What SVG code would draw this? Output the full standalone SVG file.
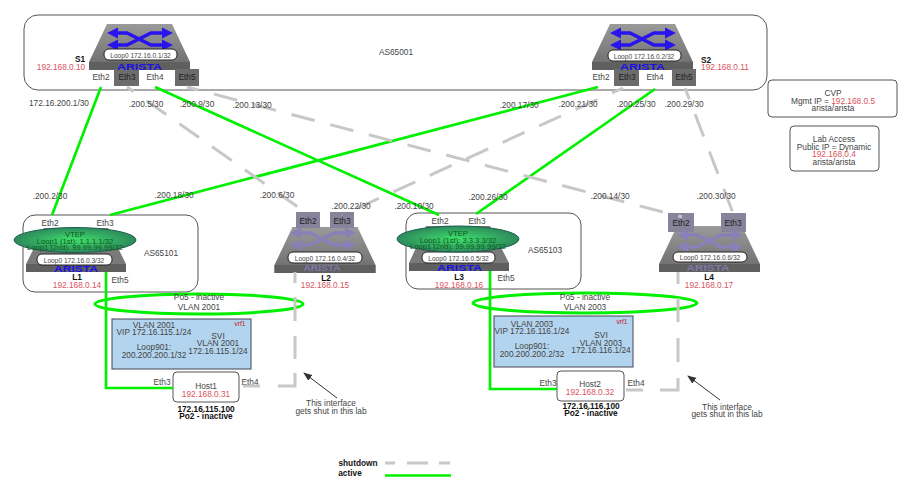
<svg xmlns="http://www.w3.org/2000/svg" width="900" height="499" viewBox="0 0 900 499">
<style>
text{font-family:"Liberation Sans",Arial,sans-serif;font-size:8.3px;fill:#444;text-anchor:middle}
.ip{fill:#d9525c}
.b{font-weight:bold;fill:#111}
.pt{fill:#222}
.box{fill:#fff;stroke:#555;stroke-width:1}
.nofill{fill:none}
.on{fill:none;stroke:#00f000;stroke-width:2.7}
.off{fill:none;stroke:#c8c8c8;stroke-width:3;stroke-dasharray:24 16;stroke-dashoffset:12}
.port{fill:#6c6c6c}
.portd{fill:#86839a}
.ar{font-size:8.5px;font-weight:bold;fill:#1a10e8}
.ard{fill:#7f78a8}
.lo{font-size:6.6px;fill:#444}
.lbox{fill:#fff;stroke:#222;stroke-width:1}
.po{fill:none;stroke:#00f000;stroke-width:3}
.blue{fill:#b3d4ee;stroke:#445}
.vt{fill:url(#vg);stroke:#1c5f50;stroke-width:1}
.vtxt{fill:#0a5a1a;font-size:7.6px}
.vrf{font-size:6.5px;fill:#c1121f}
.arr{stroke:#333;fill:none;marker-end:url(#ah)}
</style>
<defs>
<radialGradient id="vg"><stop offset="0" stop-color="#3fe06c"/><stop offset="1" stop-color="#2d8a5c"/></radialGradient>
<linearGradient id="bg" x1="0" y1="0" x2="0" y2="1"><stop offset="0" stop-color="#9a9a9a"/><stop offset="1" stop-color="#6a6a6a"/></linearGradient>
<marker id="ah" markerWidth="9" markerHeight="7" refX="8" refY="3.500" orient="auto"><path d="M0 0L9 3.500L0 7z" fill="#333"/></marker>
<g id="body"><path d="M18 0H83L101 38V46H0V38Z" fill="url(#bg)"/><path d="M0 38H101V46H0Z" fill="#5f5f5f"/></g>
<g id="xarrows">
<path d="M24 9H38L62 21H78M24 21H38L62 9H78" fill="none" stroke="currentColor" stroke-width="3.600"/>
<path d="M18 9L29 3.500V14.500Z M84 9L73 3.500V14.500Z M18 21L29 15.500V26.500Z M84 21L73 15.500V26.500Z" fill="currentColor"/>
</g>
</defs>
<g id="AS65001"><rect class="box nofill" x="24" y="15" width="743" height="75" rx="14"/><text x="396" y="55">AS65001</text></g>
<g id="S1"><use href="#body" x="89" y="24"/><use href="#xarrows" x="89" y="24" color="#2a14ee"/>
<rect class="lbox" x="104" y="49" width="73" height="11" rx="5"/><text class="lo" x="140.500" y="57.500">Loop0 172.16.0.1/32</text>
<rect class="port" x="114" y="69" width="25" height="17"/><rect class="port" x="175" y="69" width="24" height="17"/>
<text class="ar" x="139.500" y="69.500" textLength="45" lengthAdjust="spacingAndGlyphs">ARISTA</text>
<text x="101" y="80">Eth2</text><text class="pt" x="127" y="80">Eth3</text><text x="155" y="80">Eth4</text><text class="pt" x="187" y="80">Eth5</text>
<text class="b" x="80" y="62">S1</text><text class="ip" x="61" y="70">192.168.0.10</text></g>
<g id="S2"><use href="#body" x="592" y="24"/><use href="#xarrows" x="592" y="24" color="#2a14ee"/>
<rect class="lbox" x="608" y="50" width="73" height="11" rx="5"/><text class="lo" x="644" y="58.500">Loop0 172.16.0.2/32</text>
<rect class="port" x="614" y="69" width="25" height="17"/><rect class="port" x="672" y="69" width="24" height="17"/>
<text class="ar" x="642.500" y="69.500" textLength="45" lengthAdjust="spacingAndGlyphs">ARISTA</text>
<text x="601" y="80">Eth2</text><text class="pt" x="627" y="80">Eth3</text><text x="655" y="80">Eth4</text><text class="pt" x="684" y="80">Eth5</text>
<text class="b" x="706" y="63">S2</text><text class="ip" x="725" y="70">192.168.0.11</text></g>
<g id="CVP"><rect class="box" x="768" y="80" width="129" height="37" rx="4"/><text x="833" y="96">CVP</text><text x="833" y="104">Mgmt IP = <tspan class="ip">192.168.0.5</tspan></text><text x="833" y="111">arista/arista</text></g>
<g id="LabAccess"><rect class="box" x="790" y="126" width="89" height="45" rx="4"/><text x="834" y="142">Lab Access</text><text x="834" y="150">Public IP = Dynamic</text><text class="ip" x="834" y="157">192.168.0.4</text><text x="834" y="165">arista/arista</text></g>
<g id="AS65101"><rect class="box nofill" x="23" y="215" width="175" height="77" rx="12"/><text x="161" y="256">AS65101</text></g>
<g id="L1"><path d="M44 228H108L126 264V272H26V264Z" fill="#7a7a7a"/><path d="M26 264H126V272H26Z" fill="#5f5f5f"/>
<rect class="lbox" x="37" y="254" width="75" height="11" rx="5"/><text class="lo" x="74" y="262.500">Loop0 172.16.0.3/32</text>
<text class="ar" x="76" y="272" textLength="44" lengthAdjust="spacingAndGlyphs">ARISTA</text>
<ellipse class="vt" cx="75" cy="240" rx="61" ry="12.500"/>
<text class="vtxt" x="75" y="237">VTEP</text><text class="vtxt" x="75" y="243.500">Loop1 (1st): 1.1.1.1/32</text><text class="vtxt" x="75" y="250">Loop1 (2nd): 99.99.99.99/32</text>
<text x="50" y="226">Eth2</text><text x="105" y="226">Eth3</text><text x="120" y="283">Eth5</text>
<text class="b" x="77" y="280">L1</text><text class="ip" x="77" y="287.500">192.168.0.14</text></g>
<g id="L2"><use href="#body" x="274.500" y="227"/>
<rect class="port portd" x="296" y="212" width="24" height="16"/><rect class="port portd" x="330" y="212" width="24" height="16"/>
<use href="#xarrows" x="272" y="224" color="#8a80b8"/>
<text class="pt" x="308" y="224">Eth2</text><text class="pt" x="342" y="224">Eth3</text>
<rect class="lbox" x="288" y="252" width="74" height="11" rx="5"/><text class="lo" x="325" y="260.500">Loop0 172.16.0.4/32</text>
<text class="ar ard" x="322" y="271" textLength="37" lengthAdjust="spacingAndGlyphs">ARISTA</text>
<text class="b" x="326" y="280.500">L2</text><text class="ip" x="325" y="287.500">192.168.0.15</text></g>
<g id="AS65103"><rect class="box nofill" x="406" y="213" width="175" height="76" rx="12"/><text x="545" y="253">AS65103</text></g>
<g id="L3"><path d="M426 226H490L509 263V271H409V263Z" fill="#7a7a7a"/><path d="M409 263H509V271H409Z" fill="#5f5f5f"/>
<rect class="lbox" x="422" y="252" width="73" height="11" rx="5"/><text class="lo" x="458.500" y="260.500">Loop0 172.16.0.5/32</text>
<text class="ar" x="459.500" y="271" textLength="45" lengthAdjust="spacingAndGlyphs">ARISTA</text>
<ellipse class="vt" cx="458" cy="239" rx="61" ry="13"/>
<text class="vtxt" x="458" y="236">VTEP</text><text class="vtxt" x="458" y="242.500">Loop1 (1st): 3.3.3.3/32</text><text class="vtxt" x="458" y="249">Loop1 (2nd): 99.99.99.99/32</text>
<text x="440" y="224">Eth2</text><text x="477" y="224">Eth3</text><text x="506" y="281">Eth5</text>
<text class="b" x="459" y="280">L3</text><text class="ip" x="459" y="287.500">192.168.0.16</text></g>
<g id="L4"><use href="#body" x="659" y="226"/>
<rect class="port portd" x="668" y="213" width="26" height="19"/><rect class="port portd" x="721" y="213" width="25" height="19"/>
<use href="#xarrows" x="659" y="226" color="#8a80b8"/>
<text class="pt" x="681" y="226">Eth2</text><text class="pt" x="733" y="226">Eth3</text>
<rect class="lbox" x="673" y="252" width="74" height="10" rx="5"/><text class="lo" x="710" y="260">Loop0 172.16.0.6/32</text>
<text class="ar ard" x="708" y="271" textLength="43" lengthAdjust="spacingAndGlyphs">ARISTA</text>
<text class="b" x="709" y="280">L4</text><text class="ip" x="709" y="287.500">192.168.0.17</text></g>
<g id="Po5a"><ellipse class="po" cx="199" cy="304" rx="104" ry="10"/><text x="199" y="300">Po5 - inactive</text><text x="199" y="310">VLAN 2001</text></g>
<g id="Po5b"><ellipse class="po" cx="585" cy="303" rx="112" ry="10"/><text x="585" y="300">Po5 - inactive</text><text x="585" y="310">VLAN 2003</text></g>
<g id="VRF1"><rect class="blue" x="112" y="319" width="139" height="50"/><text class="vrf" x="240" y="326">vrf1</text>
<text x="154" y="328">VLAN 2001</text><text x="154" y="335">VIP 172.16.115.1/24</text><text x="154" y="350">Loop901:</text><text x="154" y="358">200.200.200.1/32</text><text x="218" y="339">SVI</text><text x="218" y="346">VLAN 2001</text><text x="218" y="354">172.16.115.1/24</text></g>
<g id="VRF2"><rect class="blue" x="494" y="316" width="139" height="51"/><text class="vrf" x="622" y="323.500">vrf1</text>
<text x="532" y="327">VLAN 2003</text><text x="532" y="334">VIP 172.16.116.1/24</text><text x="532" y="349">Loop901:</text><text x="532" y="357">200.200.200.2/32</text><text x="601" y="338">SVI</text><text x="601" y="345.500">VLAN 2003</text><text x="601" y="353">172.16.116.1/24</text></g>
<g id="Host1"><rect class="box" x="173" y="372" width="66" height="30" rx="4"/><text x="206" y="389">Host1</text><text class="ip" x="206" y="396.500">192.168.0.31</text>
<text x="162" y="385">Eth3</text><text x="250" y="385">Eth4</text>
<text class="b" x="206" y="411.500">172.16.115.100</text><text class="b" x="206" y="418.500">Po2 - inactive</text></g>
<g id="Host2"><rect class="box" x="557" y="371" width="67" height="30" rx="4"/><text x="590" y="387">Host2</text><text class="ip" x="590" y="395">192.168.0.32</text>
<text x="548" y="386">Eth3</text><text x="636" y="386">Eth4</text>
<text class="b" x="591" y="409">172.16.116.100</text><text class="b" x="591" y="416">Po2 - inactive</text></g>
<g id="connectors">
<path class="on" d="M101 87L52 215"/>
<path class="on" d="M155 87L439 215"/>
<path class="on" d="M598 87L110 215"/>
<path class="on" d="M655 89L476 214"/>
<path class="off" style="stroke-dashoffset:16" d="M127 87L305 212"/>
<path class="off" d="M187 87L682 217"/>
<path class="off" d="M623 88L342 215"/>
<path class="off" d="M685 88L733 213"/>
<path class="on" d="M106 272V388H173"/>
<path class="on" d="M490 271V389H557"/>
<path class="off" style="stroke-dasharray:11 14 24 15 23 14 30 18 17;stroke-dashoffset:0" d="M295 272V386H243"/>
<path class="off" style="stroke-dasharray:12 14 24 16 24 16 30 17 17;stroke-dashoffset:0" d="M678 272V390H626"/>
<path class="arr" d="M337 398L304 373"/>
<path class="arr" d="M720 400L688 376"/>
</g>
<g id="linklabels">
<text x="59" y="106">172.16.200.1/30</text><text x="146" y="107">.200.5/30</text><text x="197" y="107">.200.9/30</text><text x="252" y="108">.200.13/30</text>
<text x="519" y="108">.200.17/30</text><text x="578" y="107">.200.21/30</text><text x="636" y="107">.200.25/30</text><text x="684" y="107">.200.29/30</text>
<text x="50" y="199">.200.2/30</text><text x="174" y="198">.200.18/30</text><text x="277" y="198">.200.6/30</text><text x="351" y="209">.200.22/30</text><text x="414" y="209">.200.10/30</text><text x="488" y="200">.200.26/30</text><text x="610" y="199">.200.14/30</text><text x="716" y="199">.200.30/30</text>
</g>
<g id="notes"><text x="331" y="406">This interface</text><text x="331" y="414">gets shut in this lab</text><text x="727" y="410">This interface</text><text x="727" y="417">gets shut in this lab</text></g>
<g id="legend"><text class="b" x="358" y="466">shutdown</text><text class="b" x="350" y="476">active</text>
<path d="M385 463H451" fill="none" stroke="#c8c8c8" stroke-width="3" stroke-dasharray="10 12 21 11 11"/><path d="M385 475.500H451" fill="none" stroke="#00f000" stroke-width="2.7"/></g>
</svg>
